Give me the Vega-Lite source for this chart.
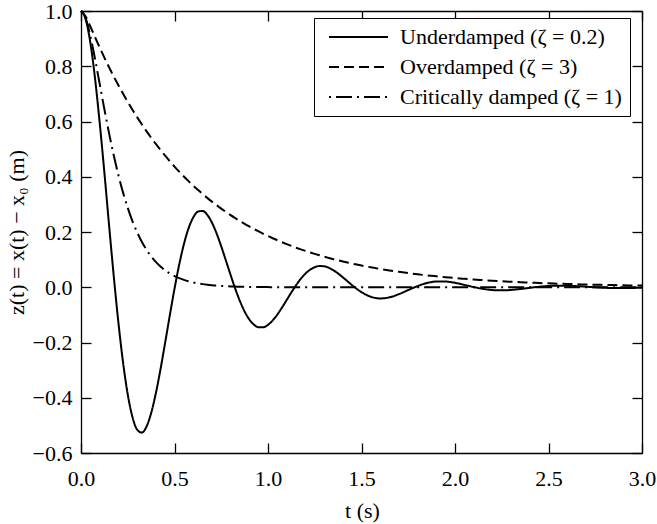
{
"$schema": "https://vega.github.io/schema/vega-lite/v6.json",
"width": 561, "height": 442,
"autosize": {"type": "none"},
"padding": {"left": 81, "top": 11, "right": 15, "bottom": 71},
"background": "white",
"config": {
  "font": "Times New Roman",
  "view": {"stroke": null},
  "axis": {"grid": false, "domainColor": "black", "tickColor": "black", "labelColor": "black", "titleColor": "black",
    "labelFont": "Times New Roman", "titleFont": "Times New Roman", "labelFontSize": 22, "titleFontSize": 22,
    "titleFontWeight": "normal", "tickSize": -10, "domainWidth": 1.3, "tickWidth": 1.3, "labelFlush": false, "labelOverlap": false}
},
"datasets": {"d": [
{"t":0,"u":1,"o":1,"c":1},
{"t":0.025,"u":0.9699,"o":0.98,"c":0.9735},
{"t":0.05,"u":0.8853,"o":0.944,"c":0.9098},
{"t":0.075,"u":0.7564,"o":0.9055,"c":0.8266},
{"t":0.1,"u":0.595,"o":0.8678,"c":0.7358},
{"t":0.125,"u":0.4155,"o":0.8314,"c":0.6446},
{"t":0.15,"u":0.2252,"o":0.7965,"c":0.5578},
{"t":0.175,"u":0.0413,"o":0.7631,"c":0.4779},
{"t":0.2,"u":-0.1275,"o":0.7311,"c":0.406},
{"t":0.225,"u":-0.2727,"o":0.7004,"c":0.3425},
{"t":0.25,"u":-0.388,"o":0.671,"c":0.2873},
{"t":0.275,"u":-0.4693,"o":0.6428,"c":0.2397},
{"t":0.3,"u":-0.5151,"o":0.6158,"c":0.1991},
{"t":0.325,"u":-0.5261,"o":0.5899,"c":0.1648},
{"t":0.35,"u":-0.5049,"o":0.5652,"c":0.1359},
{"t":0.375,"u":-0.4559,"o":0.5414,"c":0.1117},
{"t":0.4,"u":-0.3845,"o":0.5187,"c":0.0916},
{"t":0.425,"u":-0.2972,"o":0.4969,"c":0.0749},
{"t":0.45,"u":-0.2006,"o":0.4761,"c":0.0611},
{"t":0.475,"u":-0.1014,"o":0.4561,"c":0.0497},
{"t":0.5,"u":-0.0055,"o":0.4369,"c":0.0404},
{"t":0.525,"u":0.0815,"o":0.4186,"c":0.0328},
{"t":0.55,"u":0.1554,"o":0.401,"c":0.0266},
{"t":0.575,"u":0.2131,"o":0.3842,"c":0.0215},
{"t":0.6,"u":0.2527,"o":0.368,"c":0.0174},
{"t":0.625,"u":0.2736,"o":0.3526,"c":0.014},
{"t":0.65,"u":0.2763,"o":0.3378,"c":0.0113},
{"t":0.675,"u":0.2624,"o":0.3236,"c":0.0091},
{"t":0.7,"u":0.2343,"o":0.31,"c":0.0073},
{"t":0.725,"u":0.195,"o":0.297,"c":0.0059},
{"t":0.75,"u":0.1479,"o":0.2845,"c":0.0047},
{"t":0.775,"u":0.0965,"o":0.2726,"c":0.0038},
{"t":0.8,"u":0.0444,"o":0.2611,"c":0.003},
{"t":0.825,"u":-0.0055,"o":0.2502,"c":0.0024},
{"t":0.85,"u":-0.0503,"o":0.2397,"c":0.0019},
{"t":0.875,"u":-0.0878,"o":0.2296,"c":0.0015},
{"t":0.9,"u":-0.1166,"o":0.22,"c":0.0012},
{"t":0.925,"u":-0.1357,"o":0.2107,"c":0.001},
{"t":0.95,"u":-0.145,"o":0.2019,"c":0.0008},
{"t":0.975,"u":-0.1448,"o":0.1934,"c":0.0006},
{"t":1.0,"u":-0.1361,"o":0.1853,"c":0.0005},
{"t":1.025,"u":-0.1201,"o":0.1775,"c":0.0004},
{"t":1.05,"u":-0.0986,"o":0.1701,"c":0.0003},
{"t":1.075,"u":-0.0733,"o":0.1629,"c":0.0003},
{"t":1.1,"u":-0.046,"o":0.1561,"c":0.0002},
{"t":1.125,"u":-0.0186,"o":0.1495,"c":0.0002},
{"t":1.15,"u":0.0072,"o":0.1432,"c":0.0001},
{"t":1.175,"u":0.0302,"o":0.1372,"c":0.0001},
{"t":1.2,"u":0.0492,"o":0.1315,"c":0.0001},
{"t":1.225,"u":0.0635,"o":0.126,"c":0.0001},
{"t":1.25,"u":0.0727,"o":0.1207,"c":0},
{"t":1.275,"u":0.0767,"o":0.1156,"c":0},
{"t":1.3,"u":0.0758,"o":0.1107,"c":0},
{"t":1.325,"u":0.0705,"o":0.1061,"c":0},
{"t":1.35,"u":0.0615,"o":0.1016,"c":0},
{"t":1.375,"u":0.0497,"o":0.0974,"c":0},
{"t":1.4,"u":0.0361,"o":0.0933,"c":0},
{"t":1.425,"u":0.0217,"o":0.0894,"c":0},
{"t":1.45,"u":0.0074,"o":0.0856,"c":0},
{"t":1.475,"u":-0.006,"o":0.082,"c":0},
{"t":1.5,"u":-0.0178,"o":0.0786,"c":0},
{"t":1.55,"u":-0.0345,"o":0.0721,"c":0},
{"t":1.6,"u":-0.0405,"o":0.0662,"c":0},
{"t":1.65,"u":-0.0364,"o":0.0607,"c":0},
{"t":1.7,"u":-0.025,"o":0.0558,"c":0},
{"t":1.75,"u":-0.0101,"o":0.0512,"c":0},
{"t":1.8,"u":0.0043,"o":0.047,"c":0},
{"t":1.85,"u":0.0152,"o":0.0431,"c":0},
{"t":1.9,"u":0.0207,"o":0.0396,"c":0},
{"t":1.95,"u":0.0206,"o":0.0363,"c":0},
{"t":2.0,"u":0.016,"o":0.0333,"c":0},
{"t":2.05,"u":0.0086,"o":0.0306,"c":0},
{"t":2.1,"u":0.0007,"o":0.0281,"c":0},
{"t":2.15,"u":-0.0059,"o":0.0258,"c":0},
{"t":2.2,"u":-0.0101,"o":0.0236,"c":0},
{"t":2.25,"u":-0.0112,"o":0.0217,"c":0},
{"t":2.3,"u":-0.0097,"o":0.0199,"c":0},
{"t":2.35,"u":-0.0062,"o":0.0183,"c":0},
{"t":2.4,"u":-0.0021,"o":0.0168,"c":0},
{"t":2.45,"u":0.0018,"o":0.0154,"c":0},
{"t":2.5,"u":0.0046,"o":0.0141,"c":0},
{"t":2.55,"u":0.0058,"o":0.013,"c":0},
{"t":2.6,"u":0.0056,"o":0.0119,"c":0},
{"t":2.65,"u":0.0041,"o":0.0109,"c":0},
{"t":2.7,"u":0.002,"o":0.01,"c":0},
{"t":2.75,"u":-0.0002,"o":0.0092,"c":0},
{"t":2.8,"u":-0.0019,"o":0.0084,"c":0},
{"t":2.85,"u":-0.0029,"o":0.0078,"c":0},
{"t":2.9,"u":-0.0031,"o":0.0071,"c":0},
{"t":2.95,"u":-0.0025,"o":0.0065,"c":0},
{"t":3.0,"u":-0.0015,"o":0.006,"c":0}
]},
"data": {"name": "d"},
"transform": [{"fold": ["u", "o", "c"], "as": ["series", "z"]}],
"layer": [
  {
    "mark": {"type": "line", "color": "black", "strokeWidth": 2, "interpolate": "monotone"},
    "encoding": {
      "x": {"field": "t", "type": "quantitative", "scale": {"domain": [0, 3], "nice": false},
        "axis": {"orient": "bottom", "values": [0, 0.5, 1, 1.5, 2, 2.5, 3], "format": ".1f", "title": "t (s)", "labelPadding": 25,
          "titleX": 281, "titleY": 57, "titleBaseline": "middle"}},
      "y": {"field": "z", "type": "quantitative", "scale": {"domain": [-0.6, 1.0], "nice": false},
        "axis": {"orient": "left", "values": [-0.6, -0.4, -0.2, 0, 0.2, 0.4, 0.6, 0.8, 1.0], "format": ".1f", "title": "z(t) = x(t) − x₀ (m)", "labelPadding": 19,
          "titleX": -65, "titleY": 221, "titleBaseline": "middle", "titleAlign": "center", "titleAngle": 270}},
      "strokeDash": {"field": "series", "type": "nominal",
        "scale": {"domain": ["u", "o", "c"], "range": [[1, 0], [10, 5], [2, 5, 16, 5]]},
        "legend": {"title": null, "orient": "none", "legendX": 233, "legendY": 7, "direction": "vertical",
          "symbolType": "stroke", "symbolSize": 3481, "symbolStrokeWidth": 2, "symbolStrokeColor": "black", "symbolOffset": 6,
          "labelFont": "Times New Roman", "labelFontSize": 22, "labelColor": "black", "labelOffset": 11, "labelLimit": 400,
          "padding": 8, "strokeColor": "black", "fillColor": "white", "clipHeight": 22, "rowPadding": 8,
          "labelExpr": "datum.label == 'u' ? 'Underdamped (ζ = 0.2)' : datum.label == 'o' ? 'Overdamped (ζ = 3)' : 'Critically damped (ζ = 1)'"}}
    }
  },
  {
    "mark": {"type": "line", "strokeOpacity": 0},
    "encoding": {
      "x": {"field": "t", "type": "quantitative", "axis": {"orient": "top", "values": [0, 0.5, 1, 1.5, 2, 2.5, 3], "labels": false, "title": null}},
      "y": {"field": "z", "type": "quantitative", "axis": {"orient": "right", "values": [-0.6, -0.4, -0.2, 0, 0.2, 0.4, 0.6, 0.8, 1.0], "labels": false, "title": null}},
      "detail": {"field": "series"}
    }
  }
],
"resolve": {"axis": {"x": "independent", "y": "independent"}}
}
